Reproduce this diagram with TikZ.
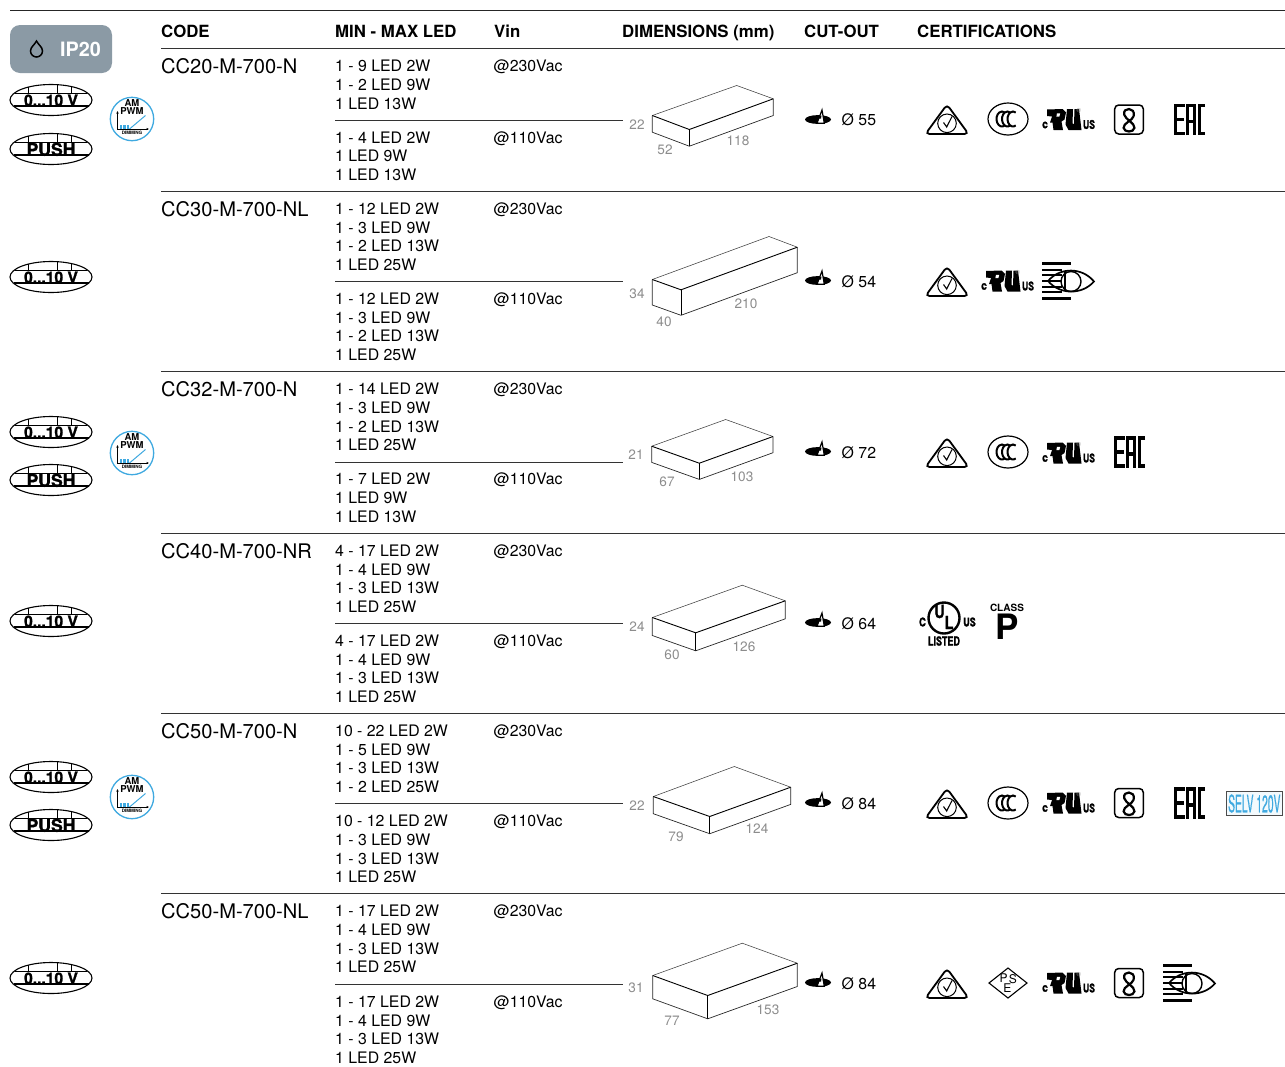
\documentclass[tikz,border=0pt]{standalone}
\usepackage{fontspec}
\setmainfont{TeX Gyre Heros}
\setsansfont{TeX Gyre Heros}
\newfontfamily\heavyfont[BoldFeatures={FakeBold=1.6}]{TeX Gyre Heros}
\newfontfamily\selvfont[FakeBold=.8]{TeX Gyre Heros}
\definecolor{ipgrey}{HTML}{8B9AA5}
\definecolor{dimgrey}{HTML}{8C8C8C}
\definecolor{dimblue}{HTML}{3FA9E0}

\newcommand{\badgeshape}{%
  \draw[line width=1.1] (0,0) ellipse [x radius=41, y radius=15.5];
  \draw[line width=.9] (-36,-6.5) -- (36,-6.5);
  \draw[line width=1.3] (-37.5,6) -- (37.5,6);
  \draw[line width=.9] (-23,-12.8) -- (-23,-6.5);
  \draw[line width=.9] (6,-15.3) -- (6,-6.5);
  \draw[line width=.9] (20,-13.5) -- (20,-6.5);
}

\tikzset{
  headtxt/.style = {anchor=base west, inner sep=0pt, font=\fontsize{16.8}{18}\selectfont\bfseries},
  codetxt/.style = {anchor=base west, inner sep=0pt, font=\fontsize{20.1}{22}\selectfont},
  ledtxt/.style = {anchor=base west, inner sep=0pt, font=\fontsize{15.85}{18}\selectfont},
  dimtxt/.style = {inner sep=0pt, text=dimgrey, font=\fontsize{13.6}{15}\selectfont},
  tinytxt/.style = {inner sep=0pt, font=\fontsize{12}{12}\selectfont\heavyfont\bfseries},
  volt/.pic = {\badgeshape
    \node[inner sep=0pt, font=\fontsize{15.6}{16}\selectfont\heavyfont\bfseries] (-t) at (0,.3) {0...10 V};},
  push/.pic = {\badgeshape
    \node[inner sep=0pt, font=\fontsize{17.6}{16}\selectfont\heavyfont\bfseries] (-t) at (0,.3) {PUSH};},
  dimming/.pic = {
    \draw[dimblue, line width=1.3, fill=white] (0,0) circle (21.7);
    \foreach \bx in {-12.5,-9,-5.5}
      \fill[dimblue] (\bx,6) rectangle (\bx+2.8,10);
    \draw[dimblue, line width=1] (-2.5,10) -- (13.5,-3.5);
    \draw[line width=.7] (-14.5,-7) -- (-14.5,10) -- (16,10);
    \fill (17,10) -- (14.5,8.8) -- (14.5,11.2) -- cycle;
    \fill (-14.5,-8) -- (-15.7,-5.5) -- (-13.3,-5.5) -- cycle;
    \node[inner sep=0pt, font=\fontsize{9.5}{9}\selectfont\bfseries] (-a) at (0,-15.5) {AM};
    \node[inner sep=0pt, font=\fontsize{9.5}{9}\selectfont\bfseries] (-p) at (0,-7.5) {PWM};
    \node[inner sep=0pt, font=\fontsize{4.6}{5}\selectfont\bfseries] (-d) at (0,13.5) {DIMMING};},
  cutout/.pic = {
    \fill (0,0) ellipse [x radius=13, y radius=4.4];
    \filldraw[fill=white, draw=black, line width=1.2] (4,-9.5) -- (-1,3.7) -- (6.3,3.7) -- cycle;
    \fill (1.5,-4) -- (3.5,-4) -- (3,-1) -- (1,-1) -- cycle;},
  rcm/.pic = {
    \draw[line width=1.8, rounded corners=4] (0,-15.5) -- (21.5,14) -- (-21.5,14) -- cycle;
    \draw[line width=1] (0,3.3) circle (9.3);
    \draw[line width=1.1] (-3.5,2.5) -- (-.3,7) -- (5,-3.5);},
  ccc/.pic = {
    \draw[line width=1.2] (0,0) ellipse [x radius=20, y radius=16];
    \foreach \cx in {-6,-.5,5}
      \draw[line width=2] (\cx,0) ++(60:5.5 and 7.5) arc [start angle=60, end angle=300, x radius=5.5, y radius=7.5];},
  urmark/.pic = {
    \fill (-22,-10) -- (-6.5,-10.5) -- (-3,-7) -- (-4.5,0) -- (-7.5,2) -- (-6,10.5) -- (-15.5,10.5) -- (-16.5,3) -- (-19,3) -- (-17,-3) -- (-22,-3.5) -- cycle;
    \fill[white] (-12,-6.2) -- (-8.8,-6.2) -- (-9.6,-3) -- (-12.6,-3) -- cycle;
    \fill (-2,-10.5) -- (4,-10.5) -- (3.5,4) -- (5,4.5) -- (5.5,-10.5) -- (10,-10.5) -- (12.5,10.5) -- (-.5,10.5) -- (-3.5,5) -- cycle;
    \node[inner sep=0pt, text=dimgrey, font=\fontsize{6}{6}\selectfont] (-r) at (9.8,-9) {®};
    \node[tinytxt] (-c) at (-24,5.5) {\scalebox{.85}[1]{c}};
    \node[tinytxt] (-u) at (20,5) {\scalebox{.72}[1]{US}};},
  smark/.pic = {
    \draw[line width=1.5, rounded corners=4] (-14.3,-14.5) rectangle (14.3,14.5);
    \draw[line width=2.2, scale=1.2] (4,-3) .. controls (5.5,-10.5) and (-5.5,-10.5) .. (-4,-4)
      .. controls (-3,0) and (5,3) .. (4.5,7) .. controls (4,11) and (-4,11) .. (-4.5,7)
      .. controls (-5,3) and (3,1) .. (4,-3);},
  eacmark/.pic = {
    \draw[line width=3.4] (-5,-14) -- (-14,-14) -- (-14,14) -- (-5,14);
    \draw[line width=3.4] (-14,0) -- (-6,0);
    \draw[line width=3.4] (-2,15.7) -- (-2,-14) -- (5,-14) -- (5,15.7);
    \draw[line width=3.4] (-2,2) -- (5,2);
    \draw[line width=3.4] (15.5,-14) -- (10,-14) -- (10,14) -- (15.5,14);},
  eyemark/.pic = {
    \draw[line width=3] (-26,-17.5) -- (3,-17.5);
    \draw[line width=3] (-26,17.5) -- (3,17.5);
    \foreach \ey in {-11,-6,0,6,11}
      \draw[line width=1.9] (-26,\ey) -- (-6,\ey);
    \draw[line width=1.7] (-20,0) .. controls (-8,-14) and (14,-14) .. (26,.5)
      .. controls (14,14) and (-8,14) .. (-20,0);
    \draw[line width=1.4] (3,.5) circle (10);
    \draw[line width=1.4] (-3,-10) -- (-3,10);},
  psemark/.pic = {
    \draw[line width=1.1] (-19,0) -- (0,-15) -- (19,0) -- (0,15) -- cycle;
    \node[inner sep=0pt, font=\fontsize{12}{12}\selectfont] (-p) at (-4.3,-4.5) {P};
    \node[inner sep=0pt, font=\fontsize{12}{12}\selectfont] (-s) at (4.8,-4) {S};
    \node[inner sep=0pt, font=\fontsize{12}{12}\selectfont] (-e) at (-.7,5.5) {E};},
}

\begin{document}
\begin{tikzpicture}[x=1pt, y=-1pt]
\useasboundingbox (0,0) rectangle (1285,1066);

% rules
\draw[line width=1, black!85] (10,10.5) -- (1285,10.5);
\foreach \ry in {48,191,371,533,713,893}
  \draw[line width=.8, black!80] (161,\ry) -- (1285,\ry);
\foreach \ry in {120,281,462,623,803,984}
  \draw[line width=.7, black!80] (335,\ry) -- (623,\ry);

% protection badge
\node[fill=ipgrey, rounded corners=10pt, minimum width=102pt, minimum height=48pt, inner sep=0pt] (ip) at (61,49) {};
\node[anchor=base west, inner sep=0pt, text=white, font=\fontsize{19.8}{20}\selectfont\bfseries] (ipt) at (60,56) {IP20};
\draw[line width=1.5] (36.5,41) .. controls (38.5,45) and (42.5,47) .. (42.5,51) .. controls (42.5,55) and (39,57) .. (36.5,57)
  .. controls (34,57) and (30.5,55) .. (30.5,51) .. controls (30.5,47) and (34.5,45) .. (36.5,41) -- cycle;

% header
\foreach \hx/\htext [count=\i] in {161/CODE, 335/MIN - MAX LED, 494/Vin, 622/DIMENSIONS (mm), 804/CUT-OUT, 917/CERTIFICATIONS}
  \node[headtxt] (head\i) at (\hx,37) {\htext};

% codes
\foreach \cy/\ctext [count=\i] in {73/CC20-M-700-N, 216/CC30-M-700-NL, 396/CC32-M-700-N, 558/CC40-M-700-NR, 738/CC50-M-700-N, 918/CC50-M-700-NL}
  \node[codetxt] (code\i) at (161,\cy) {\ctext};

% led lists
\foreach \ly/\ltext [count=\i] in {
  71/1 - 9 LED 2W, 90/1 - 2 LED 9W, 109/1 LED 13W,
  143/1 - 4 LED 2W, 161/1 LED 9W, 180/1 LED 13W,
  214/1 - 12 LED 2W, 233/1 - 3 LED 9W, 251/1 - 2 LED 13W, 270/1 LED 25W,
  304/1 - 12 LED 2W, 323/1 - 3 LED 9W, 341/1 - 2 LED 13W, 360/1 LED 25W,
  394/1 - 14 LED 2W, 413/1 - 3 LED 9W, 432/1 - 2 LED 13W, 450/1 LED 25W,
  484/1 - 7 LED 2W, 503/1 LED 9W, 522/1 LED 13W,
  556/4 - 17 LED 2W, 575/1 - 4 LED 9W, 593/1 - 3 LED 13W, 612/1 LED 25W,
  646/4 - 17 LED 2W, 665/1 - 4 LED 9W, 683/1 - 3 LED 13W, 702/1 LED 25W,
  736/10 - 22 LED 2W, 755/1 - 5 LED 9W, 773/1 - 3 LED 13W, 792/1 - 2 LED 25W,
  826/10 - 12 LED 2W, 845/1 - 3 LED 9W, 864/1 - 3 LED 13W, 882/1 LED 25W,
  916/1 - 17 LED 2W, 935/1 - 4 LED 9W, 954/1 - 3 LED 13W, 972/1 LED 25W,
  1007/1 - 17 LED 2W, 1026/1 - 4 LED 9W, 1044/1 - 3 LED 13W, 1063/1 LED 25W}
  \node[ledtxt] (led\i) at (335,\ly) {\ltext};

% input voltage
\foreach \vy/\vtext [count=\i] in {71/@230Vac, 143/@110Vac, 214/@230Vac, 304/@110Vac, 394/@230Vac, 484/@110Vac,
  556/@230Vac, 646/@110Vac, 736/@230Vac, 826/@110Vac, 916/@230Vac, 1007/@110Vac}
  \node[ledtxt] (vin\i) at (493.5,\vy) {\vtext};

% housings
\foreach \lx/\ly/\fx/\fy/\rx/\ry/\bx/\by/\hh [count=\i] in {
  652.3/115.5/689.3/129.5/773.3/98.8/736.7/85.5/16.7,
  652.3/279.5/681/289.8/797.3/247.2/769/236.5/25.5,
  651.7/446.2/699.3/463.2/773/436.5/725.7/419.5/16.2,
  652.3/617.5/695.7/632.8/785.3/600.8/742.3/585.2/18,
  653.3/796.5/709.7/816.5/790.7/787.2/734.3/766.5/17.2,
  652.7/975.5/707.7/995.5/797.3/963.2/742.3/943.2/23.3}
{
  \coordinate (ltop\i) at (\lx,\ly);
  \coordinate (ftop\i) at (\fx,\fy);
  \coordinate (rtop\i) at (\rx,\ry);
  \coordinate (back\i) at (\bx,\by);
  \coordinate (lbot\i) at (\lx,\ly+\hh);
  \coordinate (fbot\i) at (\fx,\fy+\hh);
  \coordinate (rbot\i) at (\rx,\ry+\hh);
  \draw[line width=.55, black!75] (ltop\i) -- (back\i) -- (rtop\i);
  \draw[line width=.9] (ltop\i) -- (ftop\i) -- (rtop\i);
  \draw[line width=.9] (ftop\i) -- (fbot\i);
  \draw[line width=.7, black!85] (ltop\i) -- (lbot\i) -- (fbot\i) -- (rbot\i) -- (rtop\i);
}

% sizes
\foreach \dx/\dy/\dtext [count=\i] in {
  637/125/22, 665/150/52, 738/141/118,
  637/294/34, 664/322/40, 746/304/210,
  636/455/21, 667/482/67, 742/477/103,
  637/627/24, 672/655/60, 744/647/126,
  637/806/22, 676/837/79, 757/829/124,
  636/988/31, 672/1021/77, 768/1010/153}
  \node[dimtxt] (size\i) at (\dx,\dy) {\dtext};

% cut-outs
\foreach \uy/\uo/\utext [count=\i] in {120/119.5/55, 282/280.5/54, 453/451.5/72, 624/622.5/64, 804/802.5/84, 984/982.5/84}
{
  \pic (cut\i) at (818,\uo) {cutout};
  \node[ledtxt, anchor=west] (hole\i) at (841.5,\uy) {Ø \utext};
}

% left badges
\foreach \ay [count=\i] in {100,277,432,621,777,978}
  \pic (volt\i) at (51,\ay) {volt};
\foreach \ay [count=\i] in {149,480,825}
  \pic (push\i) at (51,\ay) {push};
\foreach \ay [count=\i] in {119,453,797}
  \pic (dim\i) at (132,\ay) {dimming};

% certifications
\foreach \cx/\cy [count=\i] in {947/120, 947/282, 947/453, 947/804, 947/984}
  \pic (rcm\i) at (\cx,\cy) {rcm};
\foreach \cx/\cy [count=\i] in {1008/119, 1008/452, 1008/803}
  \pic (ccc\i) at (\cx,\cy) {ccc};
\foreach \cx/\cy [count=\i] in {1069/119.5, 1008/281, 1069/453, 1069/803, 1069/983}
  \pic (ur\i) at (\cx,\cy) {urmark};
\foreach \cx/\cy [count=\i] in {1129/119.5, 1129/803, 1129/983}
  \pic (s\i) at (\cx,\cy) {smark};
\foreach \cx/\cy [count=\i] in {1189.5/119.5, 1129.5/452, 1189.5/803}
  \pic (eac\i) at (\cx,\cy) {eacmark};
\foreach \cx/\cy [count=\i] in {1068/281, 1189/983}
  \pic (eye\i) at (\cx,\cy) {eyemark};
\pic (pse) at (1008,983) {psemark};

% UL listed and class P
\draw[line width=2.4] (944,618) circle (15.5);
\node[inner sep=0pt, font=\fontsize{18}{18}\selectfont\heavyfont\bfseries] (ulu) at (939.5,611.5) {\scalebox{.8}[1]{U}};
\node[inner sep=0pt, font=\fontsize{18}{18}\selectfont\heavyfont\bfseries] (ull) at (949,622.5) {\scalebox{.8}[1]{L}};
\node[tinytxt] (ulc) at (922.5,622) {\scalebox{.8}[1]{C}};
\node[tinytxt] (ulus) at (969.5,622) {\scalebox{.75}[1]{US}};
\node[inner sep=0pt, font=\fontsize{12.5}{12}\selectfont\heavyfont\bfseries] (ulisted) at (944,641) {\scalebox{.72}[1]{LISTED}};
\node[inner sep=0pt, font=\fontsize{10}{10}\selectfont\bfseries] (cclass) at (1007,607.5) {CLASS};
\node[inner sep=0pt, font=\fontsize{35}{35}\selectfont\bfseries] (cp) at (1007,627) {P};

% SELV
\draw[line width=1, black!70, fill=dimblue!6] (1226,791.5) rectangle (1282.5,815);
\node[inner sep=0pt, text=dimblue, font=\fontsize{24}{24}\selectfont\selvfont] (selv) at (1254.3,803.5) {\scalebox{.43}[1]{SELV 120V}};
\end{tikzpicture}
\end{document}
